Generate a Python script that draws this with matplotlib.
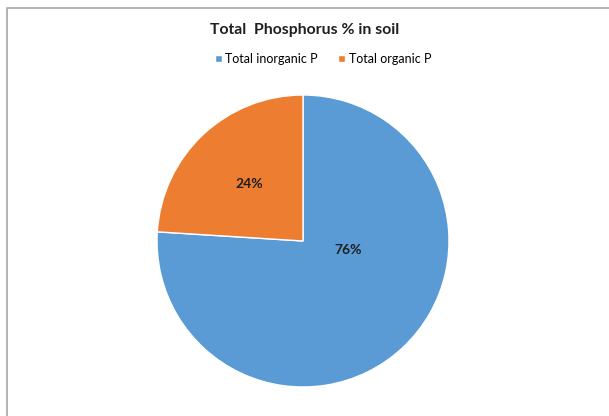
import matplotlib
matplotlib.use('Agg')
import matplotlib.pyplot as plt
from matplotlib.lines import Line2D

plt.rcParams['font.family'] = ['Lato', 'DejaVu Sans']

# Data
labels = ['Total inorganic P', 'Total organic P']
values = [76, 24]
colors = ['#5B9BD5', '#ED7D31']

W, H = 609, 416
fig = plt.figure(figsize=(W / 100, H / 100), dpi=100)

# chart border, only top and left edges are visible in the screenshot
fig.lines.append(Line2D([7 / W, 7 / W, 1.0], [0.0, 1 - 8 / H, 1 - 8 / H],
                        transform=fig.transFigure, color='#a6a6a6', linewidth=1.2))

# pie axes: centre (303, 241), radius 146 px
cx, cy, r = 303, 241, 146
ax = fig.add_axes([(cx - r) / W, (H - cy - r) / H, 2 * r / W, 2 * r / H])
wedges, texts, autotexts = ax.pie(values, colors=colors, startangle=90,
                                  counterclock=False, autopct='%d%%',
                                  pctdistance=0.54,
                                  wedgeprops=dict(edgecolor='white', linewidth=1))
ax.set_aspect('equal')
ax.set_xlim(-1, 1)
ax.set_ylim(-1, 1)

# Excel-like label placement
autotexts[0].set_position((0.31, -0.06))
for t in autotexts:
    t.set_fontsize(10)
    t.set_fontweight('bold')
    t.set_color('#1f1f1f')

fig.text(0.5, 1 - 30 / H, 'Total  Phosphorus % in soil', ha='center', va='center',
         fontsize=11.3, fontweight='bold', color='#1f1f1f')

fig.legend(wedges, labels, loc='center', bbox_to_anchor=(323 / W, 1 - 59 / H),
           ncol=2, frameon=False, fontsize=9, handlelength=0.55, handleheight=0.55,
           handletextpad=0.3, columnspacing=1.6)

plt.savefig('out.png', dpi=100)
